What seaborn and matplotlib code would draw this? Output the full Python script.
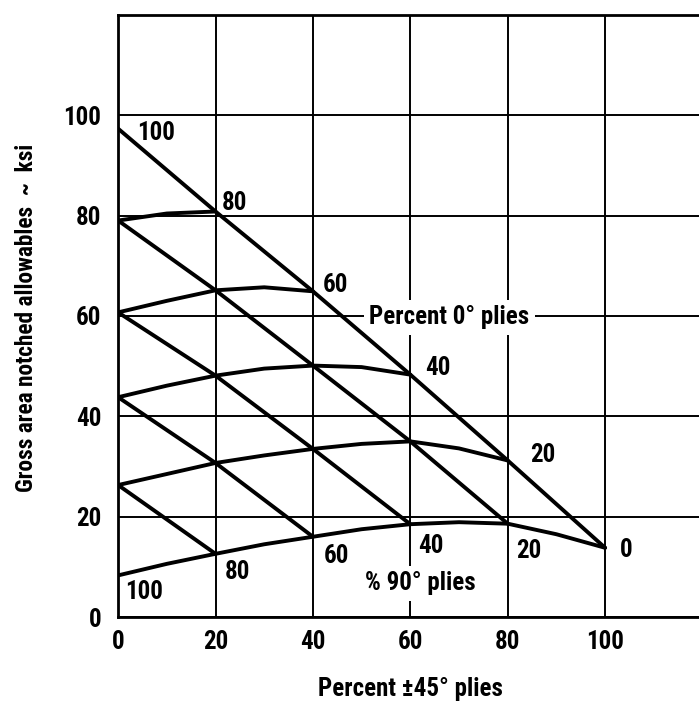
import matplotlib
matplotlib.use("Agg")
import matplotlib.pyplot as plt
from matplotlib import font_manager as fm
import seaborn as sns

# ─── Data ─────────────────────────────────────────────────────────────────────
# curves of constant percent 0° plies: x = percent ±45° plies, y = ksi
x_0pct0 = [0, 10, 20, 30, 40, 50, 60, 70, 80, 90, 100]
y_0pct0 = [8.3, 10.6, 12.6, 14.5, 16.0, 17.5, 18.5, 18.9, 18.6, 16.5, 13.8]

x_20pct0 = [0, 10, 20, 30, 40, 50, 60, 70, 80]
y_20pct0 = [26.3, 28.5, 30.7, 32.2, 33.5, 34.5, 35.0, 33.6, 31.2]

x_40pct0 = [0, 10, 20, 30, 40, 50, 60]
y_40pct0 = [43.8, 46.1, 48.1, 49.5, 50.1, 49.8, 48.3]

x_60pct0 = [0, 10, 20, 30, 40]
y_60pct0 = [60.7, 63.0, 65.1, 65.7, 64.9]

x_80pct0 = [0, 10, 20]
y_80pct0 = [79.0, 80.4, 80.8]

x_100pct0 = [0]
y_100pct0 = [97.3]

pct90_levels = [0, 20, 40, 60, 80]
ticks = [0, 20, 40, 60, 80, 100]
grid_lines = [0, 20, 40, 60, 80, 100, 120]

upper_labels = ["100", "80", "60", "40", "20"]
lower_labels = ["100", "80", "60", "40", "20", "0"]

FS = 18

curves = {
    0: (x_0pct0, y_0pct0),
    20: (x_20pct0, y_20pct0),
    40: (x_40pct0, y_40pct0),
    60: (x_60pct0, y_60pct0),
    80: (x_80pct0, y_80pct0),
    100: (x_100pct0, y_100pct0),
}


def node(p45, p0):
    xs, ys = curves[p0]
    return ys[xs.index(p45)]


def pick_narrow_font():
    """First installed narrow/condensed family, else DejaVu Sans."""
    names = sorted({f.name for f in fm.fontManager.ttflist})
    for pref in ["Liberation Sans Narrow", "DejaVu Sans Condensed",
                 "Roboto Condensed", "Open Sans Condensed", "Noto Sans Condensed"]:
        if pref in names:
            return pref, "normal"
    for f in fm.fontManager.ttflist:
        if "condensed" in str(f.stretch) or "Narrow" in f.name or "Condensed" in f.name:
            return f.name, f.stretch
    return "DejaVu Sans", "normal"


sns.set_style("white")
font_name, font_stretch = pick_narrow_font()
plt.rcParams["font.family"] = [font_name, "DejaVu Sans"]
plt.rcParams["font.stretch"] = font_stretch if font_stretch else "normal"
plt.rcParams["font.weight"] = "bold"
plt.rcParams["axes.labelweight"] = "bold"
plt.rcParams["text.color"] = "black"
plt.rcParams["axes.labelcolor"] = "black"
plt.rcParams["xtick.color"] = "black"
plt.rcParams["ytick.color"] = "black"

fig = plt.figure(figsize=(6.99, 7.02), dpi=100)
ax = fig.add_axes([0.169, 0.121, 0.836, 0.858])

for g in grid_lines:
    ax.axvline(g, color="black", lw=1.4, zorder=1)
    ax.axhline(g, color="black", lw=1.4, zorder=1)

# constant 0° curves
for p0, (xs, ys) in curves.items():
    if len(xs) > 1:
        sns.lineplot(x=xs, y=ys, ax=ax, color="black", lw=2.8, sort=False,
                     estimator=None, zorder=3)

# constant 90° lines through the nodes
for p90 in pct90_levels:
    xs = [p45 for p45 in ticks if p45 <= 100 - p90]
    ys = [node(p45, 100 - p90 - p45) for p45 in xs]
    sns.lineplot(x=xs, y=ys, ax=ax, color="black", lw=2.8, sort=False,
                 estimator=None, zorder=3)

upper_pos = [(4, 96.5), (21.3, 82.5), (42, 66.1), (63, 49.6), (84.7, 32.2)]
for txt, (tx, ty) in zip(upper_labels, upper_pos):
    ax.text(tx, ty, txt, fontsize=FS, ha="left", va="center", zorder=4)

lower_pos = [(1.4, 4.9), (21.8, 8.9), (42.2, 12.2), (61.7, 14.1), (81.7, 13.1), (103, 13.3)]
for txt, (tx, ty) in zip(lower_labels, lower_pos):
    ax.text(tx, ty, txt, fontsize=FS, ha="left", va="center", zorder=4)

box = dict(facecolor="white", edgecolor="none", pad=4)
ax.text(68, 59.7, "Percent 0° plies", fontsize=FS, ha="center", va="center",
        bbox=box, zorder=2.5)
ax.text(62, 6.7, "% 90° plies", fontsize=FS, ha="center", va="center",
        bbox=box, zorder=2.5)

ax.set_xlim(0, 120)
ax.set_ylim(0, 120)
ax.set_xticks(ticks)
ax.set_yticks(ticks)
ax.tick_params(length=0, labelsize=FS, pad=9)
ax.tick_params(axis="y", pad=12)
for s in ax.spines.values():
    s.set_linewidth(2)
    s.set_color("black")

ax.set_xlabel("Percent ±45° plies", fontsize=FS)
ax.set_ylabel("Gross area notched allowables  ~  ksi", fontsize=16.8)
ax.xaxis.set_label_coords(0.5, -0.1)
ax.yaxis.set_label_coords(-0.157, 0.497)
ax.yaxis.label.set_va("center")

fig.savefig("out.png", dpi=100)
